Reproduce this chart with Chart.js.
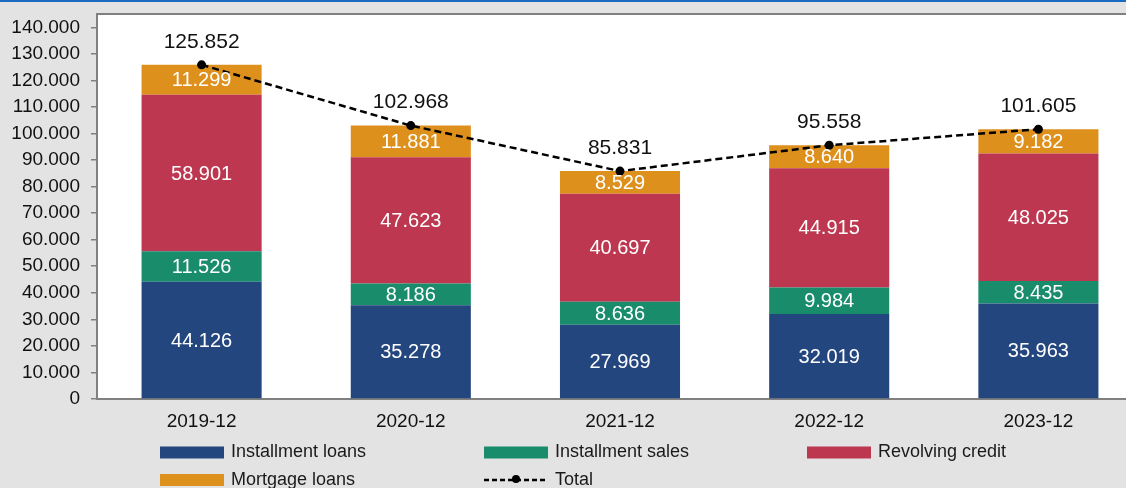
<!DOCTYPE html>
<html>
<head>
<meta charset="utf-8">
<script src="https://cdn.jsdelivr.net/npm/chart.js@4.4.1/dist/chart.umd.min.js"></script>
<style>
  html, body { margin: 0; padding: 0; width: 1126px; height: 488px; overflow: hidden; background: #e3e3e3; }
  #topline { position: absolute; left: 0; top: 0; width: 1126px; height: 2px; background: #1b6cc1; z-index: 2; }
  #wrap { position: absolute; left: 0; top: 0; width: 1143px; height: 488px; }
</style>
</head>
<body>
<div id="topline"></div>
<div id="wrap"><canvas id="loanChart" width="1143" height="488"></canvas></div>
<script>
// Data
const periods = ['2019-12', '2020-12', '2021-12', '2022-12', '2023-12'];
const installmentLoans = [44126, 35278, 27969, 32019, 35963];
const installmentSales = [11526, 8186, 8636, 9984, 8435];
const revolvingCredit = [58901, 47623, 40697, 44915, 48025];
const mortgageLoans = [11299, 11881, 8529, 8640, 9182];
const totals = [125852, 102968, 85831, 95558, 101605];
const yTickValues = [0, 10000, 20000, 30000, 40000, 50000, 60000, 70000,
                     80000, 90000, 100000, 110000, 120000, 130000, 140000];

const FONT = "'Liberation Sans', Arial, sans-serif";

// 44126 -> "44.126"
function fmt(v) {
    return String(v).replace(/\B(?=(\d{3})+(?!\d))/g, '.');
}

// Plot background and top frame line
const frame = {
    id: 'frame',
    beforeDraw(chart) {
        const { ctx, chartArea: a } = chart;
        ctx.save();
        ctx.fillStyle = '#ffffff';
        ctx.fillRect(a.left, a.top, a.right - a.left, a.bottom - a.top);
        ctx.strokeStyle = '#808080';
        ctx.lineWidth = 2;
        ctx.beginPath();
        ctx.moveTo(a.left - 1, a.top);
        ctx.lineTo(a.right, a.top);
        ctx.stroke();
        ctx.restore();
    }
};

// Value labels: white inside the bar segments, black above the total points
const valueLabels = {
    id: 'valueLabels',
    afterDatasetsDraw(chart) {
        const ctx = chart.ctx;
        ctx.save();
        ctx.textAlign = 'center';
        ctx.textBaseline = 'middle';
        chart.data.datasets.forEach((ds, i) => {
            const meta = chart.getDatasetMeta(i);
            meta.data.forEach((el, j) => {
                const text = fmt(ds.data[j]);
                if (ds.type === 'line') {
                    ctx.fillStyle = '#111111';
                    ctx.font = '21px ' + FONT;
                    ctx.fillText(text, el.x, el.y - 23);
                } else {
                    ctx.fillStyle = '#ffffff';
                    ctx.font = '20px ' + FONT;
                    ctx.fillText(text, el.x, (el.y + el.base) / 2 + 1);
                }
            });
        });
        ctx.restore();
    }
};

// Legend laid out on a fixed 3-column grid, like the original
const gridLegend = {
    id: 'gridLegend',
    afterDraw(chart) {
        const ctx = chart.ctx;
        const cols = [160, 484, 807];
        const rows = [452.5, 480];
        ctx.save();
        ctx.font = '18px ' + FONT;
        ctx.textBaseline = 'middle';
        ctx.textAlign = 'left';
        chart.data.datasets.forEach((ds, i) => {
            const x = cols[i % 3];
            const y = rows[Math.floor(i / 3)];
            if (ds.type === 'line') {
                ctx.strokeStyle = '#000';
                ctx.lineWidth = 2.5;
                ctx.setLineDash([5, 3]);
                ctx.beginPath();
                ctx.moveTo(x, y);
                ctx.lineTo(x + 63, y);
                ctx.stroke();
                ctx.setLineDash([]);
                ctx.fillStyle = '#000';
                ctx.beginPath();
                ctx.arc(x + 32, y - 1, 4, 0, Math.PI * 2);
                ctx.fill();
            } else {
                ctx.fillStyle = ds.backgroundColor;
                ctx.fillRect(x, y - 6, 64, 12);
            }
            ctx.fillStyle = '#1a1a1a';
            ctx.fillText(ds.label, x + 71, y);
        });
        ctx.restore();
    }
};

function barSet(label, data, color) {
    return {
        type: 'bar',
        label: label,
        data: data,
        backgroundColor: color,
        stack: 'parts',
        order: 1,
        barPercentage: 0.574,
        categoryPercentage: 1
    };
}

const ctx = document.getElementById('loanChart').getContext('2d');
const loanChart = new Chart(ctx, {
    data: {
        labels: periods,
        datasets: [
            barSet('Installment loans', installmentLoans, '#24467f'),
            barSet('Installment sales', installmentSales, '#188c6b'),
            barSet('Revolving credit', revolvingCredit, '#bc374f'),
            barSet('Mortgage loans', mortgageLoans, '#de901d'),
            {
                type: 'line',
                label: 'Total',
                data: totals,
                stack: 'total',
                order: 0,
                borderColor: '#000000',
                borderWidth: 2.5,
                borderDash: [7, 4],
                pointRadius: 4.5,
                pointBackgroundColor: '#000000',
                pointBorderWidth: 0,
                fill: false,
                tension: 0
            }
        ]
    },
    options: {
        responsive: false,
        animation: false,
        layout: { autoPadding: false, padding: { top: 14, left: 0, right: 0, bottom: 0 } },
        plugins: {
            legend: { display: false },
            tooltip: { enabled: false }
        },
        scales: {
            x: {
                stacked: true,
                afterFit(scale) {
                    scale.height = 89;
                    scale.paddingLeft = 0;
                    scale.paddingRight = 0;
                },
                grid: { display: false },
                border: { display: true, color: '#808080', width: 2 },
                ticks: {
                    color: '#111111',
                    font: { family: FONT, size: 19 },
                    padding: 3,
                    maxRotation: 0
                }
            },
            y: {
                stacked: true,
                min: 0,
                max: 145000,
                afterFit(scale) {
                    scale.width = 97;
                    scale.paddingTop = 0;
                    scale.paddingBottom = 0;
                },
                afterBuildTicks(scale) {
                    scale.ticks = yTickValues.map(v => ({ value: v }));
                },
                grid: {
                    drawOnChartArea: false,
                    drawTicks: true,
                    tickLength: 6,
                    color: '#808080',
                    lineWidth: 1.5
                },
                border: { display: true, color: '#808080', width: 2 },
                ticks: {
                    color: '#111111',
                    font: { family: FONT, size: 19 },
                    padding: 11,
                    callback: v => fmt(v)
                }
            }
        }
    },
    plugins: [frame, valueLabels, gridLegend]
});
</script>
</body>
</html>
